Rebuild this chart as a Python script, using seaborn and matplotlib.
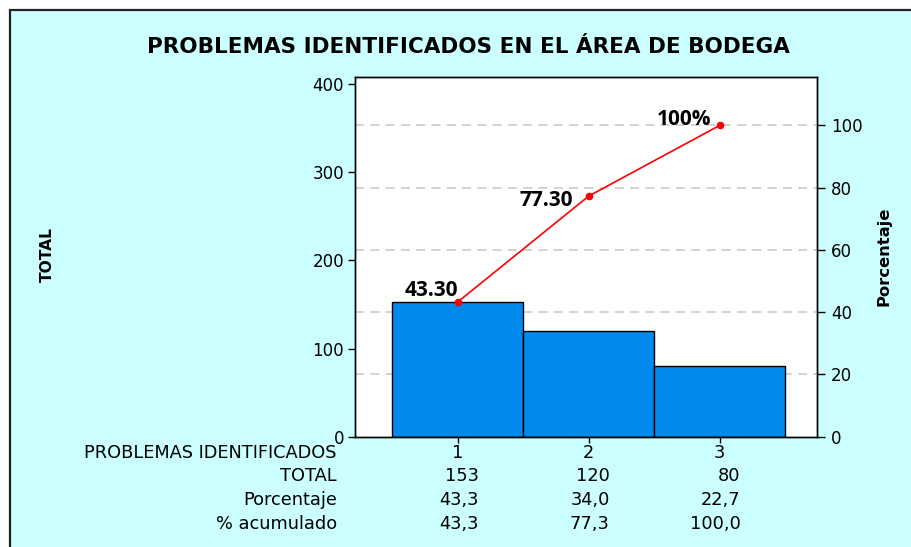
import numpy as np
import matplotlib
matplotlib.use("Agg")
import matplotlib.pyplot as plt
import matplotlib.transforms as mtransforms
from matplotlib.patches import Rectangle
import seaborn as sns

# ---- data ----
categories = ["1", "2", "3"]
totals = [153, 120, 80]
porcentaje = ["43,3", "34,0", "22,7"]
acumulado = [43.3, 77.3, 100.0]
acumulado_txt = ["43,3", "77,3", "100,0"]
point_labels = ["43.30", "77.30", "100%"]
row_labels = ["PROBLEMAS IDENTIFICADOS", "TOTAL", "Porcentaje", "% acumulado"]
left_ticks = [0, 100, 200, 300, 400]
right_ticks = [0, 20, 40, 60, 80, 100]
title = "PROBLEMAS IDENTIFICADOS EN EL ÁREA DE BODEGA"

sns.set_theme(style="white")
plt.rcParams['font.family'] = ['DejaVu Sans']
plt.rcParams['text.color'] = 'black'
plt.rcParams['xtick.color'] = 'black'
plt.rcParams['ytick.color'] = 'black'

W, H = 911, 547
fig = plt.figure(figsize=(W / 100, H / 100), dpi=100, facecolor="white")

# framed cyan background
bg = Rectangle((10 / W, -0.05), 1.1, 1 - 10 / H + 0.05,
               transform=fig.transFigure, facecolor="#CCFFFF",
               edgecolor="#222222", linewidth=1.6, zorder=-10)
fig.patches.append(bg)

ax = fig.add_axes([355 / W, (H - 436.7) / H, (817 - 355) / W, (436.7 - 76.7) / H])
ax.set_facecolor("white")

x = np.arange(len(categories))
sns.barplot(x=x, y=totals, ax=ax, color="#0289EE", width=1.0,
            edgecolor="black", linewidth=1.0, saturation=1, native_scale=True)

total_sum = sum(totals)
ymax = 408.3
ax.set_ylim(0, ymax)
ax.set_xlim(-0.785, 2.744)
ax.set_yticks(left_ticks)
ax.set_yticklabels([str(t) for t in left_ticks], fontsize=12)
ax.set_xticks(x)
ax.set_xticklabels([""] * len(x))
ax.tick_params(axis="y", direction="out", length=5, width=1, color="black", left=True, pad=3)
ax.tick_params(axis="x", direction="out", length=4, width=1, color="black", bottom=True)
ax.set_xlabel("")
ax.set_ylabel("")
for s in ax.spines.values():
    s.set_color("black")
    s.set_linewidth(1.0)

# dashed grid at percentage levels (behind bars)
ax.set_yticks([total_sum * p / 100 for p in right_ticks[1:]], minor=True)
ax.tick_params(axis="y", which="minor", length=0)
ax.grid(which="minor", axis="y", color="#C8C8C8", linestyle=(0, (6, 4)), linewidth=1.1)
ax.set_axisbelow(True)

ax2 = ax.twinx()
sns.lineplot(x=x, y=acumulado, ax=ax2, color="#FF0000", linewidth=1.2,
             marker="o", markersize=5.5, markeredgewidth=0)
ax2.set_ylim(0, ymax / total_sum * 100)
ax2.set_yticks(right_ticks)
ax2.set_yticklabels([str(t) for t in right_ticks], fontsize=12)
ax2.tick_params(axis="y", direction="out", length=6, width=1, color="black", right=True, pad=4)
ax2.set_ylabel("")
for s in ax2.spines.values():
    s.set_color("black")
    s.set_linewidth(1.0)

offsets = [(0, 8), (-11, -3), (-6, 4)]
for xi, yi, lab, off in zip(x, acumulado, point_labels, offsets):
    ax2.annotate(lab, (xi, yi), xytext=off, textcoords="offset points",
                 ha="right", va="center", fontsize=15, fontweight="bold",
                 family=["Open Sans", "DejaVu Sans"], color="black")

# axis titles
fig.text(47 / W, 1 - 255 / H, "TOTAL", rotation=90, ha="center", va="center",
         fontsize=11.2, fontweight="bold")
fig.text(884 / W, 1 - 256 / H, "Porcentaje", rotation=90, ha="center", va="center",
         fontsize=11.8, fontweight="bold")

# title
fig.text(468 / W, 1 - 47 / H, title, ha="center", va="center",
         fontsize=15.5, fontweight="bold")

# table under the chart
row_y = [453, 476, 500, 524]
fs_tab = 12.8
for lab, ry in zip(row_labels, row_y):
    fig.text(337 / W, 1 - ry / H, lab, ha="right", va="center", fontsize=fs_tab)

trans = mtransforms.blended_transform_factory(ax.transData, fig.transFigure)
rows = [[str(t) for t in totals], porcentaje, acumulado_txt]
for xi, c in zip(x, categories):
    ax.text(xi, 1 - row_y[0] / H, c, transform=trans, ha="center", va="center",
            fontsize=fs_tab, clip_on=False)
for r, ry in zip(rows, row_y[1:]):
    for xi, v in zip(x, r):
        ax.text(xi + 0.16, 1 - ry / H, v, transform=trans, ha="right", va="center",
                fontsize=fs_tab, clip_on=False)

fig.savefig("out.png", dpi=100, facecolor="white")
